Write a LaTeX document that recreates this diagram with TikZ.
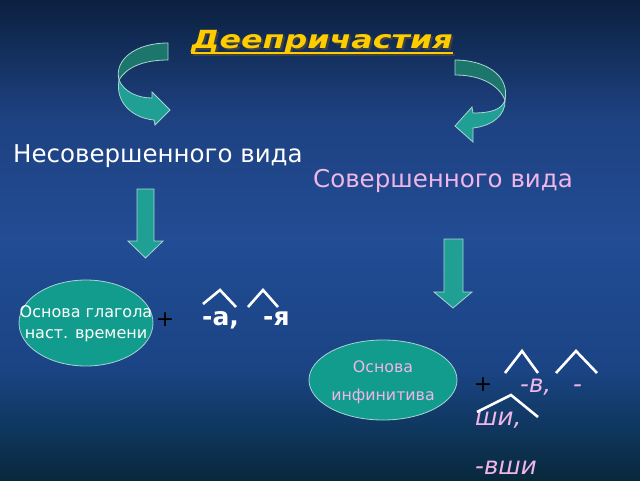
\documentclass[tikz,border=0pt]{standalone}
\usepackage{fontspec}
\setmainfont{DejaVu Sans}
\newfontfamily\titlefont{DejaVu Sans}[FakeStretch=1.27]
\usetikzlibrary{shapes.geometric}
\definecolor{bgA}{RGB}{8,40,60}
\definecolor{bgB}{RGB}{16,56,98}
\definecolor{bgC}{RGB}{26,68,132}
\definecolor{bgD}{RGB}{34,76,148}
\definecolor{bgE}{RGB}{30,66,130}
\definecolor{bgF}{RGB}{18,46,90}
\definecolor{bgG}{RGB}{12,32,64}
\pgfdeclareverticalshading{bgshade}{100bp}{color(0bp)=(bgA); color(25bp)=(bgA); color(31bp)=(bgB); color(36.5bp)=(bgC); color(50bp)=(bgD); color(62.5bp)=(bgE); color(70bp)=(bgF); color(75bp)=(bgG); color(100bp)=(bgG)}
\definecolor{tealdark}{RGB}{28,118,108}
\definecolor{teallight}{RGB}{32,160,148}
\definecolor{tealfill}{RGB}{18,156,142}
\definecolor{tealrim}{RGB}{170,212,212}
\definecolor{pinktxt}{RGB}{240,182,232}
\definecolor{titleyellow}{RGB}{255,204,0}
\tikzset{
  darkpart/.style={fill=tealdark, draw=tealrim, line width=0.8pt, line join=miter},
  lightpart/.style={fill=teallight, draw=tealrim, line width=0.8pt, line join=miter},
  caret/.style={draw=white, line width=2.6pt},
  bigtxt/.style={inner sep=0, anchor=base west, font=\fontsize{24.5}{24.5}\selectfont},
  pinkit/.style={inner sep=0, anchor=base west, text=pinktxt, font=\fontsize{24.5}{24.5}\selectfont\itshape},
  plus/.style={inner sep=0, text=black, font=\fontsize{22}{22}\selectfont},
  ovalshape/.style={ellipse, fill=tealfill, draw=tealrim, line width=0.8pt, inner sep=0}
}
\begin{document}
\begin{tikzpicture}[x=1pt,y=-1pt]
\useasboundingbox (0,0) rectangle (640,480);
\shade[shading=bgshade] (0,0) rectangle (640,480);

% title
\node[inner sep=0, anchor=base, text=black!75, font=\fontsize{25}{25}\titlefont\bfseries\itshape] (titleshadow) at (324,50) {Деепричастия};
\node[inner sep=0, anchor=base, text=titleyellow, font=\fontsize{25}{25}\titlefont\bfseries\itshape] (title) at (322,48) {Деепричастия};
\draw[black!75, line width=2pt] ([shift={(2,7)}]title.base west) -- ([shift={(2,7)}]title.base east);
\draw[titleyellow, line width=2pt] ([shift={(0,5)}]title.base west) -- ([shift={(0,5)}]title.base east);

% left curved arrow
\filldraw[darkpart] (168,43) .. controls (135,43) and (114,60) .. (119,80)
   .. controls (126,68) and (142,60) .. (168,60) -- cycle;
\filldraw[lightpart] (119,80) .. controls (124,92) and (138,98) .. (152,98)
   -- (152,92) -- (170,110) -- (155,125) -- (154,120)
   .. controls (132,118) and (115,102) .. (119,80) -- cycle;

% right curved arrow
\filldraw[darkpart] (455,60) .. controls (485,60) and (510,75) .. (505,100)
   .. controls (500,88) and (485,75) .. (455,75) -- cycle;
\filldraw[lightpart] (505,100) .. controls (502,110) and (490,113) .. (473,113)
   -- (472,107) -- (455,126) -- (473,142) -- (473,128)
   .. controls (492,126) and (506,115) .. (505,100) -- cycle;

% labels
\node[bigtxt, text=white] (nesov) at (13,162) {Несовершенного вида};
\node[bigtxt, text=pinktxt] (sov) at (313,187) {Совершенного вида};

% down arrows
\filldraw[lightpart] (137,189) -- (154,189) -- (154,241) -- (163,241) -- (145.5,258) -- (128,241) -- (137,241) -- cycle;
\filldraw[lightpart] (444,239) -- (463,239) -- (463,292) -- (472,292) -- (453,308) -- (434,292) -- (444,292) -- cycle;

% left ellipse
\node[ovalshape, minimum width=134, minimum height=86] (osnL) at (86,323) {};
\node[inner sep=0, align=center, text=white, font=\fontsize{16}{21}\selectfont] (osnLtext) at (86,324) {Основа глагола\\наст. времени};
\node[plus] (plusL) at (165,320) {+};
\node[inner sep=0, anchor=base west, text=white, font=\fontsize{25}{25}\selectfont\bfseries] (endA) at (202,325) {-а,};
\node[inner sep=0, anchor=base west, text=white, font=\fontsize{25}{25}\selectfont\bfseries] (endYa) at (263,325) {-я};
\draw[caret] (203,304) -- (220,290) -- (236,307);
\draw[caret] (248,307) -- (263,290) -- (278,307);

% right ellipse
\node[ovalshape, minimum width=148, minimum height=80] (osnR) at (383,380) {};
\node[inner sep=0, align=center, text=pinktxt, font=\fontsize{15.8}{28}\selectfont] (osnRtext) at (383,382) {Основа\\инфинитива};
\node[plus] (plusR) at (483,385) {+};
\node[pinkit] (endV) at (520,392) {-в,};
\node[pinkit] (endDash) at (573,392) {-};
\node[pinkit] (endShi) at (475,425) {ши,};
\node[pinkit] (endVshi) at (475,474) {-вши};
\draw[caret] (505,373) -- (522,351) -- (538,373);
\draw[caret] (556,373) -- (576,351) -- (597,373);
\draw[caret] (477,412) -- (511,395) -- (538,417);
\end{tikzpicture}
\end{document}
